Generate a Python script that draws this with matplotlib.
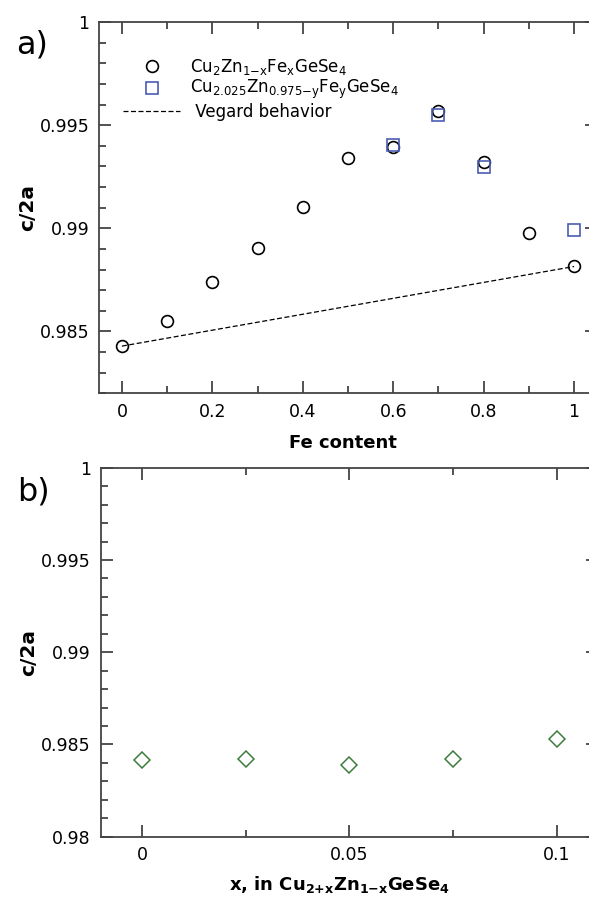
import matplotlib
matplotlib.use('Agg')
import matplotlib.pyplot as plt
from matplotlib.ticker import MultipleLocator, FuncFormatter

# panel a) data
fe_x = [0, 0.1, 0.2, 0.3, 0.4, 0.5, 0.6, 0.7, 0.8, 0.9, 1.0]
fe_ratio = [0.98429, 0.98550, 0.98739, 0.98906, 0.99105, 0.99341,
            0.99395, 0.99571, 0.99320, 0.98979, 0.98815]
fe_y = [0.6, 0.7, 0.8, 1.0]
fe_y_ratio = [0.99406, 0.99549, 0.99298, 0.98994]
vegard_x = [0, 1.0]
vegard_ratio = [0.98429, 0.98815]

# panel b) data
cu_x = [0, 0.025, 0.05, 0.075, 0.1]
cu_ratio = [0.98415, 0.98419, 0.98388, 0.98420, 0.98529]

width_px = 589
height_px = 897
dpi = 100

plt.rcParams['font.family'] = 'DejaVu Sans'
plt.rcParams['mathtext.fontset'] = 'dejavusans'

spine_col = '#444444'
blue = '#4a5cb4'
green = '#3d7d3d'

fmt = FuncFormatter(lambda v, p: '%g' % round(v, 4))


def style_axes(ax, xmaj, xmin):
    for s in ax.spines.values():
        s.set_color(spine_col)
        s.set_linewidth(1.3)
    ax.xaxis.set_major_locator(MultipleLocator(xmaj))
    ax.xaxis.set_minor_locator(MultipleLocator(xmin))
    ax.yaxis.set_major_locator(MultipleLocator(0.005))
    ax.yaxis.set_minor_locator(MultipleLocator(0.001))
    ax.xaxis.set_major_formatter(fmt)
    ax.yaxis.set_major_formatter(fmt)
    ax.tick_params(which='both', direction='in', top=True, right=True,
                   color=spine_col, width=1.3, labelsize=12.5)
    ax.tick_params(which='major', length=8.5, pad=7)
    ax.tick_params(which='minor', length=4.8)


fig = plt.figure(figsize=(width_px / dpi, height_px / dpi), dpi=dpi)

# a) Fe substitution
ax1 = fig.add_axes([0.1686, 0.5615, 0.8445, 0.4139])
ax1.plot(vegard_x, vegard_ratio, color='black', lw=0.9, ls=(0, (4, 2)),
         label=' Vegard behavior', zorder=1)
ax1.plot(fe_x, fe_ratio, 'o', ms=8.5, mfc='none', mec='black', mew=1.2,
         label=r'Cu$\mathregular{_2}$Zn$\mathregular{_{1{-}x}}$Fe$\mathregular{_x}$GeSe$\mathregular{_4}$')
ax1.plot(fe_y, fe_y_ratio, 's', ms=8, mfc='none', mec=blue, mew=1.2,
         label=r'Cu$\mathregular{_{2.025}}$Zn$\mathregular{_{0.975{-}y}}$Fe$\mathregular{_y}$GeSe$\mathregular{_4}$')
ax1.set_xlim(-0.05, 1.05)
ax1.set_ylim(0.982, 1.0)
style_axes(ax1, 0.2, 0.1)
ax1.set_xlabel('Fe content', fontsize=13, fontweight='bold')
ax1.set_ylabel('c/2a', fontsize=14.5, fontweight='bold')
ax1.yaxis.set_label_coords(-0.125, 0.5)
ax1.xaxis.set_label_coords(0.49, -0.11)
h, l = ax1.get_legend_handles_labels()
ax1.legend([h[1], h[2], h[0]], [l[1], l[2], l[0]], loc='upper left',
           bbox_to_anchor=(0.035, 0.925), frameon=False, fontsize=12,
           handlelength=3.4, handletextpad=0.6, labelspacing=0.1,
           borderaxespad=0)
fig.text(32 / width_px, 1 - 45 / height_px, 'a)', fontsize=23,
         ha='center', va='center')

# b) Cu excess
ax2 = fig.add_axes([0.171, 0.0672, 0.8445, 0.4114])
ax2.plot(cu_x, cu_ratio, 'D', ms=8, mfc='none', mec=green, mew=1.1)
ax2.set_xlim(-0.01, 0.11)
ax2.set_ylim(0.98, 1.0)
style_axes(ax2, 0.05, 0.025)
ax2.set_xlabel(r'x, in Cu$\mathregular{_{2{+}x}}$Zn$\mathregular{_{1{-}x}}$GeSe$\mathregular{_4}$',
               fontsize=13, fontweight='bold')
ax2.set_ylabel('c/2a', fontsize=14.5, fontweight='bold')
ax2.yaxis.set_label_coords(-0.125, 0.5)
ax2.xaxis.set_label_coords(0.48, -0.1)
fig.text(33 / width_px, 1 - 492 / height_px, 'b)', fontsize=23,
         ha='center', va='center')

fig.savefig('out.png', dpi=dpi)
